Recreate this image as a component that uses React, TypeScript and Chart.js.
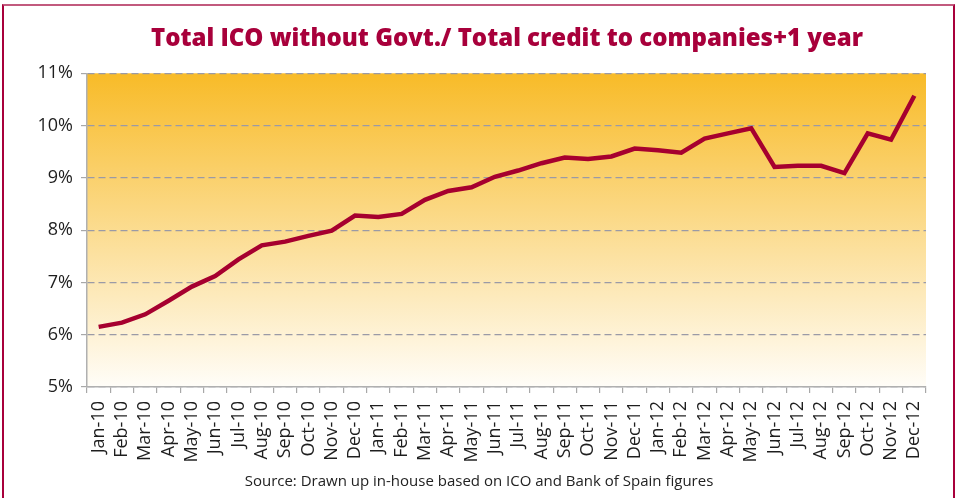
import React, { useEffect, useRef } from "react";
import { Chart, registerables } from "chart.js";

Chart.register(...registerables);

const TITLE = "Total ICO without Govt./ Total credit to companies+1 year";
const SOURCE = "Source: Drawn up in-house based on ICO and Bank of Spain figures";

const months = [
  "Jan-10", "Feb-10", "Mar-10", "Apr-10", "May-10", "Jun-10", "Jul-10", "Aug-10", "Sep-10", "Oct-10", "Nov-10", "Dec-10",
  "Jan-11", "Feb-11", "Mar-11", "Apr-11", "May-11", "Jun-11", "Jul-11", "Aug-11", "Sep-11", "Oct-11", "Nov-11", "Dec-11",
  "Jan-12", "Feb-12", "Mar-12", "Apr-12", "May-12", "Jun-12", "Jul-12", "Aug-12", "Sep-12", "Oct-12", "Nov-12", "Dec-12",
];

const ratio = [
  6.15, 6.23, 6.39, 6.65, 6.92, 7.12, 7.44, 7.71, 7.78, 7.89, 7.99, 8.28,
  8.25, 8.31, 8.58, 8.75, 8.82, 9.02, 9.14, 9.28, 9.39, 9.36, 9.41, 9.56,
  9.53, 9.48, 9.75, 9.85, 9.95, 9.21, 9.23, 9.23, 9.09, 9.85, 9.73, 10.57,
];

const yMin = 5;
const yMax = 11;
const yStep = 1;

const FONT = "'Open Sans', Lato, sans-serif";

const bgPlugin = {
  id: "bgGradient",
  beforeDraw(chart: any) {
    const { ctx, chartArea } = chart;
    if (!chartArea) return;
    const g = ctx.createLinearGradient(0, chartArea.top, 0, chartArea.bottom);
    g.addColorStop(0, "#F8BB28");
    g.addColorStop(1, "#FFFDF8");
    ctx.save();
    ctx.fillStyle = g;
    ctx.fillRect(chartArea.left, chartArea.top, chartArea.right - chartArea.left, chartArea.bottom - chartArea.top);
    ctx.restore();
  },
};

export default function App() {
  const ref = useRef<HTMLCanvasElement | null>(null);

  useEffect(() => {
    if (!ref.current) return;
    const chart = new Chart(ref.current, {
      type: "line",
      data: {
        labels: months,
        datasets: [
          {
            data: ratio,
            borderColor: "#A6002F",
            borderWidth: 4.5,
            pointRadius: 0,
            tension: 0,
            fill: false,
          },
        ],
      },
      plugins: [bgPlugin],
      options: {
        animation: false,
        responsive: false,
        devicePixelRatio: 1,
        layout: { padding: { left: 0, right: 29, top: 73.3, bottom: 25 } },
        plugins: {
          legend: { display: false },
          tooltip: { enabled: false },
          title: { display: false },
        },
        scales: {
          x: {
            offset: true,
            afterFit: (s: any) => {
              s.height = 86;
            },
            grid: {
              display: true,
              drawOnChartArea: false,
              offset: true,
              tickLength: 6,
              color: "#A8A8A8",
              lineWidth: 1.2,
            },
            border: { display: true, color: "#B0B0B0", width: 1.5 },
            ticks: {
              autoSkip: false,
              maxRotation: 90,
              minRotation: 90,
              padding: 8,
              color: "#1E1E1E",
              font: { family: FONT, size: 18 },
            },
          },
          y: {
            min: yMin,
            max: yMax,
            afterFit: (s: any) => {
              s.width = 87;
            },
            grid: {
              color: "#9A9AA6",
              lineWidth: 1.2,
              tickLength: 6,
              tickColor: "#A8A8A8",
            },
            border: { display: true, color: "#B0B0B0", width: 1.5, dash: [7, 4] },
            ticks: {
              stepSize: yStep,
              padding: 8,
              color: "#1E1E1E",
              font: { family: FONT, size: 18 },
              callback: (v: any) => `${v}%`,
            },
          },
        },
      },
    } as any);
    return () => chart.destroy();
  }, []);

  return (
    <div
      style={{
        position: "fixed",
        left: 0,
        top: 0,
        width: 955,
        height: 498,
        background: "#ffffff",
        overflow: "hidden",
      }}
    >
      <canvas ref={ref} width={955} height={498} style={{ display: "block", width: 955, height: 498 }} />
      <div
        style={{
          position: "absolute",
          left: 507,
          top: 25,
          transform: "translateX(-50%)",
          whiteSpace: "nowrap",
          fontFamily: FONT,
          fontWeight: 800,
          fontSize: 24,
          lineHeight: "24px",
          color: "#A8003B",
        }}
      >
        {TITLE}
      </div>
      <div
        style={{
          position: "absolute",
          left: 479,
          top: 473,
          transform: "translateX(-50%)",
          whiteSpace: "nowrap",
          fontFamily: FONT,
          fontSize: 15,
          lineHeight: "15px",
          color: "#222222",
        }}
      >
        {SOURCE}
      </div>
      <div
        style={{
          position: "absolute",
          left: 2,
          top: 4,
          width: 953,
          height: 600,
          boxSizing: "border-box",
          borderLeft: "2px solid #A8003B",
          borderRight: "2px solid #A8003B",
          borderTop: "2px solid #C25A7E",
          pointerEvents: "none",
        }}
      />
    </div>
  );
}
